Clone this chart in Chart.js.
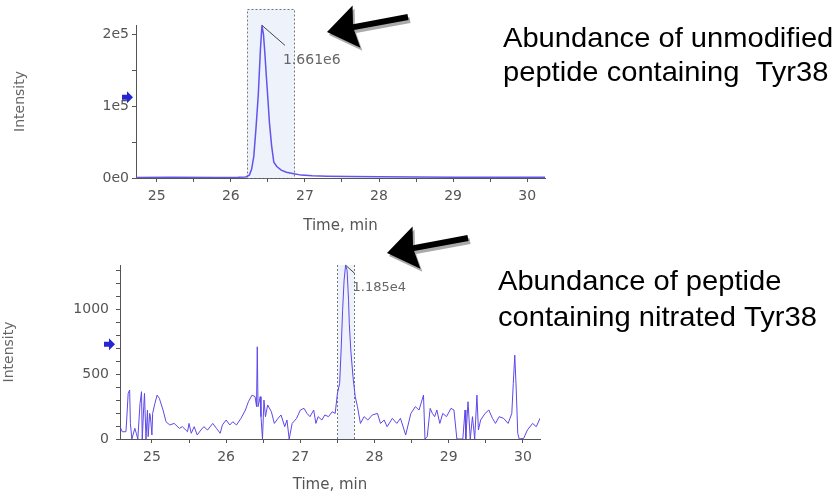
<!DOCTYPE html>
<html>
<head>
<meta charset="utf-8">
<script src="https://cdn.jsdelivr.net/npm/chart.js@4.4.1/dist/chart.umd.min.js"></script>
<style>
  html, body { margin: 0; padding: 0; background: #fff; }
  #wrap { position: relative; width: 835px; height: 495px; overflow: hidden; }
  #topChart { position: absolute; left: 0; top: 0; }
  #botChart { position: absolute; left: 0; top: 220px; }
</style>
</head>
<body>
<div id="wrap">
  <canvas id="topChart" width="835" height="245"></canvas>
  <canvas id="botChart" width="835" height="275"></canvas>
</div>
<script>
// unmodified peptide XIC
const topTime = [24.72, 25.2, 25.8, 26.1, 26.2, 26.25, 26.28, 26.31, 26.34, 26.37, 26.40, 26.42, 26.44,
  26.46, 26.48, 26.50, 26.52, 26.55, 26.58, 26.62, 26.68, 26.75, 26.85, 26.95, 27.1, 27.3, 27.6,
  28.0, 28.5, 29.0, 29.5, 30.0, 30.24];
const topIntensity = [800, 900, 700, 1000, 1500, 4000, 12000, 30000, 70000, 115000, 180000, 212000, 200000,
  172000, 140000, 110000, 78000, 45000, 22000, 16000, 11000, 8000, 6000, 4000, 3000, 2500, 2000,
  1600, 1400, 1200, 1000, 900, 900];

// nitrated peptide XIC
const botTime = [24.57, 24.60, 24.65, 24.66, 24.68, 24.70, 24.71, 24.73, 24.77, 24.79, 24.81, 24.84, 24.86,
  24.87, 24.89, 24.90, 24.92, 24.94, 24.95, 24.97, 24.98, 25.00, 25.01, 25.04, 25.07, 25.10, 25.15,
  25.19, 25.24, 25.30, 25.37, 25.41, 25.48, 25.50, 25.53, 25.57, 25.61, 25.66, 25.70, 25.75, 25.82,
  25.87, 25.92, 25.95, 26.00, 26.05, 26.09, 26.14, 26.20, 26.26, 26.30, 26.35, 26.39, 26.41, 26.42,
  26.43, 26.46, 26.47, 26.49, 26.51, 26.53, 26.56, 26.61, 26.65, 26.70, 26.74, 26.79, 26.82, 26.85,
  26.89, 26.95, 27.00, 27.05, 27.09, 27.13, 27.18, 27.21, 27.24, 27.29, 27.33, 27.38, 27.43, 27.47,
  27.50, 27.53, 27.55, 27.57, 27.59, 27.61, 27.63, 27.65, 27.66, 27.68, 27.71, 27.74, 27.77, 27.81,
  27.86, 27.91, 27.97, 28.04, 28.08, 28.13, 28.17, 28.24, 28.30, 28.35, 28.42, 28.49, 28.55, 28.60,
  28.66, 28.68, 28.71, 28.75, 28.78, 28.81, 28.84, 28.88, 28.92, 28.97, 29.03, 29.07, 29.11, 29.19,
  29.22, 29.23, 29.26, 29.29, 29.32, 29.35, 29.38, 29.40, 29.43, 29.49, 29.54, 29.59, 29.63, 29.68,
  29.74, 29.80, 29.85, 29.87, 29.89, 29.91, 29.93, 29.95, 30.01, 30.06, 30.13, 30.18, 30.23];
const botIntensity = [95, 56, 56, 146, 351, 377, 120, 0, 82, 44, 0, 274, 364,
  0, 249, 351, 0, 223, 18, 197, 172, 31, 197, 274, 338, 313, 223,
  133, 108, 120, 82, 95, 56, 120, 44, 95, 31, 69, 95, 69, 120,
  82, 44, 108, 146, 108, 133, 108, 159, 223, 287, 338, 326, 249, 710,
  249, 326, 172, 0, 300, 172, 262, 210, 120, 159, 185, 95, 146, 0,
  120, 159, 223, 236, 197, 172, 223, 120, 172, 146, 185, 172, 210, 197,
  351, 428, 685, 992, 1223, 1338, 1300, 1069, 890, 685, 479, 326, 249, 120,
  172, 146, 185, 197, 120, 146, 95, 159, 120, 159, 31, 197, 249, 223,
  338, 0, 18, 236, 197, 172, 223, 120, 197, 172, 236, 223, 0, 0,
  223, 0, 287, 0, 172, 0, 338, 69, 146, 197, 223, 159, 120, 172,
  159, 120, 197, 428, 646, 377, 44, 0, 5, 69, 120, 95, 159];

const topYTickValues = [0, 100000, 200000];
const topYTickText = ['0e0', '1e5', '2e5'];
const botYTickValues = [0, 500, 1000];
const botYTickText = ['0', '500', '1000'];
const xTickValues = [25, 26, 27, 28, 29, 30];

const topWindow = [26.22, 26.855];
const botWindow = [27.50, 27.73];
const topPeakLabel = '1.661e6';
const botPeakLabel = '1.185e4';
const topMarkerLevel = 112000;
const botMarkerLevel = 730;
const topCaption = ['Abundance of unmodified', 'peptide containing  Tyr38'];
const botCaption = ['Abundance of peptide', 'containing nitrated Tyr38'];

Chart.defaults.font.family = '"DejaVu Sans", sans-serif';
Chart.defaults.color = '#555';

function bigArrow(ctx, x1, y1, x2, y2) {
  const ang = Math.atan2(y2 - y1, x2 - x1);
  const len = Math.hypot(x2 - x1, y2 - y1);
  const headLen = 30, headW = 21.5, shaft = 3;
  const shape = (dx, dy, color) => {
    ctx.save();
    ctx.translate(x2 + dx, y2 + dy);
    ctx.rotate(ang);
    ctx.fillStyle = color;
    ctx.beginPath();
    ctx.moveTo(0, 0);
    ctx.lineTo(-headLen, -headW);
    ctx.lineTo(-headLen + 3, -shaft);
    ctx.lineTo(-len, -shaft);
    ctx.lineTo(-len, shaft);
    ctx.lineTo(-headLen + 3, shaft);
    ctx.lineTo(-headLen, headW);
    ctx.closePath();
    ctx.fill();
    ctx.restore();
  };
  shape(2, 3, '#aaaaaa');
  shape(0, 0, '#000');
}

function blueMarker(ctx, x, y) {
  ctx.save();
  ctx.fillStyle = '#2626d0';
  ctx.beginPath();
  ctx.moveTo(x - 9, y - 2.5);
  ctx.lineTo(x - 4, y - 2.5);
  ctx.lineTo(x - 4, y - 6);
  ctx.lineTo(x + 2, y);
  ctx.lineTo(x - 4, y + 6);
  ctx.lineTo(x - 4, y + 2.5);
  ctx.lineTo(x - 9, y + 2.5);
  ctx.closePath();
  ctx.fill();
  ctx.restore();
}

function caption(ctx, lines, x, y0, gap) {
  ctx.save();
  ctx.fillStyle = '#000';
  ctx.font = '28px "Liberation Sans", Arial, sans-serif';
  ctx.textBaseline = 'alphabetic';
  lines.forEach((t, i) => {
    ctx.save();
    ctx.translate(x, y0 + i * gap);
    ctx.scale(1.04, 1);
    ctx.fillText(t, 0, 0);
    ctx.restore();
  });
  ctx.restore();
}

function tickText(values, texts, v, span) {
  const i = values.findIndex(t => Math.abs(t - v) < span * 1e-6);
  return i >= 0 ? texts[i] : '';
}

// evenly spaced tick marks (minor ones get an empty label)
function tickList(from, to, step) {
  const out = [];
  for (let k = 0; from + k * step <= to + step * 1e-6; k++) out.push({value: +(from + k * step).toFixed(6)});
  return out;
}

function makeChart(id, cfg) {
  const times = cfg.times, vals = cfg.vals;
  const pk = vals.indexOf(Math.max(...vals));

  const annot = {
    id: 'annot' + id,
    beforeDatasetsDraw(chart) {
      const {ctx, chartArea} = chart;
      const xs = chart.scales.x, ys = chart.scales.y;
      const x0 = xs.getPixelForValue(cfg.window[0]);
      const x1 = xs.getPixelForValue(cfg.window[1]);
      const yb = ys.getPixelForValue(0);
      const yt = cfg.windowTop != null ? ys.getPixelForValue(cfg.windowTop) : chartArea.top;
      ctx.save();
      ctx.fillStyle = '#eef3fb';
      ctx.fillRect(x0, yt, x1 - x0, yb - yt);
      ctx.strokeStyle = '#777';
      ctx.lineWidth = 1;
      ctx.setLineDash([2, 2]);
      ctx.beginPath();
      if (cfg.boxed) {
        ctx.rect(Math.round(x0) + 0.5, Math.round(yt) + 0.5, Math.round(x1 - x0), Math.round(yb - yt));
      } else {
        ctx.moveTo(Math.round(x0) + 0.5, yt); ctx.lineTo(Math.round(x0) + 0.5, yb);
        ctx.moveTo(Math.round(x1) + 0.5, yt); ctx.lineTo(Math.round(x1) + 0.5, yb);
      }
      ctx.stroke();
      ctx.restore();
    },
    afterDraw(chart) {
      const {ctx, chartArea} = chart;
      const xs = chart.scales.x, ys = chart.scales.y;
      const px = xs.getPixelForValue(times[pk]);
      const py = ys.getPixelForValue(vals[pk]);
      ctx.save();
      ctx.strokeStyle = '#444';
      ctx.lineWidth = 1;
      ctx.beginPath();
      ctx.moveTo(px, py);
      ctx.lineTo(px + cfg.lead[0], py + cfg.lead[1]);
      ctx.stroke();
      ctx.fillStyle = '#666';
      ctx.font = cfg.peakFont + 'px "DejaVu Sans", sans-serif';
      ctx.textBaseline = 'middle';
      ctx.fillText(cfg.peakLabel, px + cfg.labelOff[0], py + cfg.labelOff[1]);
      ctx.restore();
      blueMarker(ctx, chartArea.left - 5 - cfg.markerGap, ys.getPixelForValue(cfg.marker));
      bigArrow(ctx, cfg.arrow[0], cfg.arrow[1], cfg.arrow[2], cfg.arrow[3]);
      caption(ctx, cfg.caption, cfg.capPos[0], cfg.capPos[1], cfg.capPos[2]);
    }
  };

  return new Chart(document.getElementById(id), {
    type: 'line',
    data: {
      datasets: [{
        data: times.map((t, i) => ({x: t, y: vals[i]})),
        borderColor: cfg.color,
        borderWidth: cfg.lineWidth,
        pointRadius: 0,
        tension: 0,
        fill: false
      }]
    },
    options: {
      responsive: false,
      animation: false,
      layout: {padding: cfg.padding},
      plugins: {legend: {display: false}, tooltip: {enabled: false}},
      scales: {
        x: {
          type: 'linear',
          min: cfg.xMin, max: cfg.xMax,
          afterBuildTicks: s => { s.ticks = tickList(25, 30, 0.5); },
          afterFit: s => { s.height = cfg.xHeight; },
          border: {color: '#555'},
          grid: {drawOnChartArea: false, tickLength: 4, color: '#555'},
          ticks: {
            autoSkip: false, maxRotation: 0,
            padding: 6, color: '#555', font: {size: 14},
            callback: v => tickText(xTickValues, xTickValues.map(String), v, 1)
          },
          title: {display: true, text: 'Time, min', color: '#555', font: {size: 15},
                  padding: {top: 0, bottom: cfg.xTitlePad}}
        },
        y: {
          min: 0, max: cfg.yMax,
          afterBuildTicks: s => { s.ticks = tickList(0, cfg.yMax, cfg.yStep); },
          afterFit: s => { s.width = cfg.yWidth; },
          border: {color: '#555'},
          grid: {drawOnChartArea: false, tickLength: 4, color: '#555'},
          ticks: {
            autoSkip: false,
            padding: cfg.yTickPad, color: '#555', font: {size: 14},
            callback: v => tickText(cfg.yTickValues, cfg.yTickText, v, cfg.yMax)
          },
          title: {display: true, text: 'Intensity', color: '#666', font: {size: 14},
                  padding: {top: cfg.yTitlePad, bottom: 0}}
        }
      }
    },
    plugins: [annot]
  });
}

makeChart('topChart', {
  times: topTime, vals: topIntensity,
  color: 'rgb(98,84,236)', lineWidth: 1.5,
  xMin: 24.72, xMax: 30.24, yMax: 212500, yStep: 50000,
  yTickValues: topYTickValues, yTickText: topYTickText,
  padding: {left: 0, right: 290, top: 25, bottom: 8},
  xHeight: 59, yWidth: 136, xTitlePad: 2, yTitlePad: 12, yTickPad: 3,
  window: topWindow, windowTop: 235000, boxed: true,
  peakLabel: topPeakLabel, peakFont: 14, lead: [23, 20], labelOff: [21, 35],
  marker: topMarkerLevel, markerGap: 0,
  arrow: [408, 17, 327, 32],
  caption: topCaption, capPos: [503, 47, 34]
});

makeChart('botChart', {
  times: botTime, vals: botIntensity,
  color: 'rgb(92,72,232)', lineWidth: 1,
  xMin: 24.57, xMax: 30.23, yMax: 1340, yStep: 100,
  yTickValues: botYTickValues, yTickText: botYTickText,
  padding: {left: 0, right: 295, top: 45, bottom: 0},
  xHeight: 56, yWidth: 120, xTitlePad: 1, yTitlePad: 1, yTickPad: 7,
  window: botWindow, windowTop: null, boxed: false,
  peakLabel: botPeakLabel, peakFont: 13, lead: [9, 8], labelOff: [7, 22],
  marker: botMarkerLevel, markerGap: 2,
  arrow: [468, 18, 387, 33],
  caption: botCaption, capPos: [498, 70, 36]
});
</script>
</body>
</html>
